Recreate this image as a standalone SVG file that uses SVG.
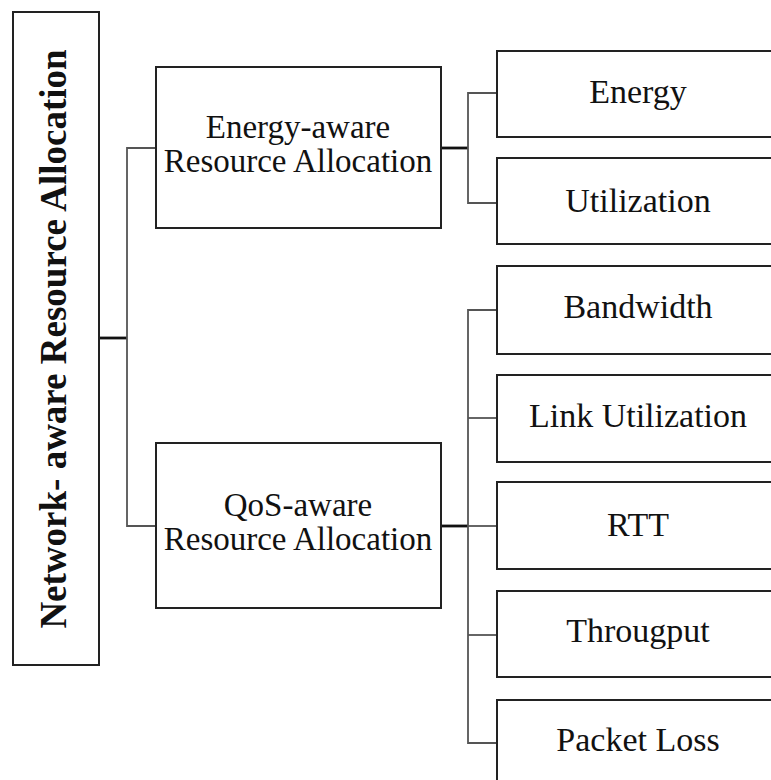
<svg xmlns="http://www.w3.org/2000/svg" width="771" height="780" viewBox="0 0 771 780">
  <style>
    .box { fill: #ffffff; stroke: #222222; stroke-width: 2; }
    .lbl { font-family: "Liberation Serif", "DejaVu Serif", serif; font-size: 34px; fill: #111111; text-anchor: middle; }
    .lbl2 { font-family: "Liberation Serif", "DejaVu Serif", serif; font-size: 33px; fill: #111111; text-anchor: middle; }
    .root { font-family: "Liberation Serif", "DejaVu Serif", serif; font-size: 37px; font-weight: bold; fill: #111111; text-anchor: middle; }
    .wire { fill: none; stroke: #555555; stroke-width: 1.8; }
    .trunk { fill: none; stroke: #111111; stroke-width: 2.8; }
  </style>
  <rect width="771" height="780" fill="#ffffff"/>

  <!-- connectors -->
  <g id="connectors">
    <!-- root to categories -->
    <path class="trunk" d="M99,338 H127"/>
    <path class="wire" d="M156,148 H127 V526 H156"/>
    <!-- energy-aware to metrics -->
    <path class="trunk" d="M441,148 H468"/>
    <path class="wire" d="M497,93 H468 V203 H497"/>
    <!-- qos-aware to metrics -->
    <path class="trunk" d="M441,526 H468"/>
    <path class="wire" d="M497,310 H468 V743 H497"/>
    <path class="wire" d="M468,418 H497"/>
    <path class="wire" d="M468,526 H497"/>
    <path class="wire" d="M468,635 H497"/>
  </g>

  <g id="root">
    <rect class="box" x="13" y="12" width="86" height="653"/>
    <text class="root" transform="translate(66,339) rotate(-90)">Network- aware Resource Allocation</text>
  </g>

  <g id="energy-aware">
    <rect class="box" x="156" y="67" width="285" height="161"/>
    <text class="lbl2" x="298" y="138">Energy-aware</text>
    <text class="lbl2" x="298" y="172">Resource Allocation</text>
  </g>

  <g id="qos-aware">
    <rect class="box" x="156" y="443" width="285" height="165"/>
    <text class="lbl2" x="298" y="516">QoS-aware</text>
    <text class="lbl2" x="298" y="550">Resource Allocation</text>
  </g>

  <g id="energy">
    <rect class="box" x="497" y="51" width="284" height="86"/>
    <text class="lbl" x="638" y="103">Energy</text>
  </g>
  <g id="utilization">
    <rect class="box" x="497" y="158" width="284" height="86"/>
    <text class="lbl" x="638" y="212">Utilization</text>
  </g>
  <g id="bandwidth">
    <rect class="box" x="497" y="266" width="284" height="88"/>
    <text class="lbl" x="638" y="318">Bandwidth</text>
  </g>
  <g id="link-utilization">
    <rect class="box" x="497" y="375" width="284" height="87"/>
    <text class="lbl" x="638" y="427">Link Utilization</text>
  </g>
  <g id="rtt">
    <rect class="box" x="497" y="482" width="284" height="87"/>
    <text class="lbl" x="638" y="536">RTT</text>
  </g>
  <g id="throughput">
    <rect class="box" x="497" y="591" width="284" height="86"/>
    <text class="lbl" x="638" y="642">Througput</text>
  </g>
  <g id="packet-loss">
    <rect class="box" x="497" y="700" width="284" height="90"/>
    <text class="lbl" x="638" y="751">Packet Loss</text>
  </g>
</svg>
